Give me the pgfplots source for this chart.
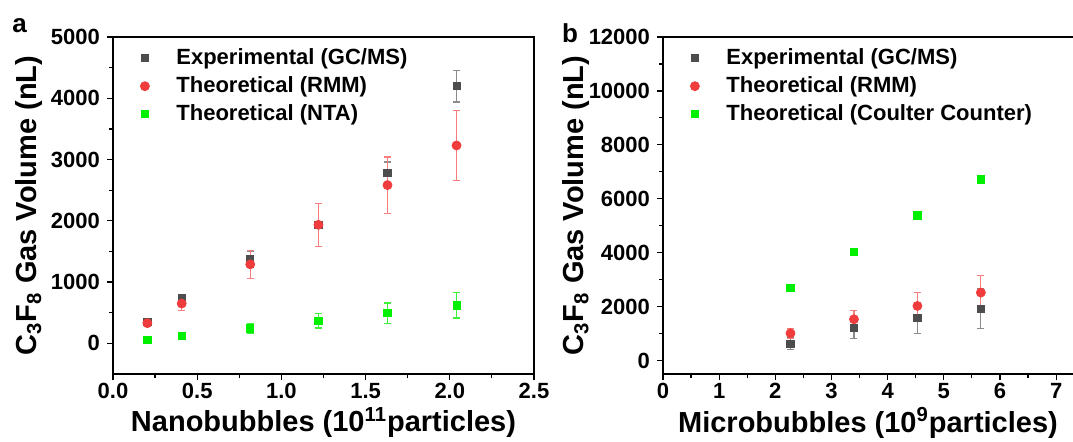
\documentclass[border=0pt]{standalone}
\usepackage{fontspec}
\setmainfont{Liberation Sans}
\usepackage{pgfplots}
\pgfplotsset{compat=1.18}
\definecolor{cgray}{RGB}{77,77,77}
\definecolor{cgrayE}{RGB}{140,140,140}
\definecolor{cred}{RGB}{240,60,60}
\definecolor{credE}{RGB}{250,125,125}
\definecolor{cgreen}{RGB}{0,240,0}
\definecolor{cgreenE}{RGB}{60,240,60}
\newcommand{\tickfont}{\fontsize{11}{13}\selectfont\bfseries}
\newcommand{\labfont}{\fontsize{14.5}{16}\selectfont\bfseries}
\pgfplotsset{
  common/.style={
    scale only axis,
    anchor=south west,
    height=168.5pt,
    ymin=-500,
    tick align=outside,
    xtick pos=bottom, ytick pos=left,
    minor x tick num=1, minor y tick num=1,
    major tick length=3pt, minor tick length=2pt,
    tick style={black, line width=0.6pt},
    axis line style={line width=0.6pt},
    /pgf/number format/assume math mode=true,
    /pgf/number format/1000 sep={},
    scaled ticks=false,
    ticklabel style={font=\tickfont},
    xticklabel style={yshift=2pt},
    label style={font=\labfont},
    xlabel style={yshift=2.5pt},
    legend style={draw=none, fill=none, font=\tickfont, anchor=north west,
      legend cell align=left, row sep=0.5pt, xshift=10.5pt,
      /tikz/every odd column/.append style={column sep=11.5pt}},
    error bars/y dir=both, error bars/y explicit,
    error bars/error mark options={rotate=90, mark size=1.75pt, line width=0.6pt},
  },
  sgray/.style={only marks, mark=square*, mark size=1.8pt, color=cgray,
     error bars/error bar style={cgrayE, line width=0.6pt}},
  sred/.style={only marks, mark=*, mark size=2.25pt, color=cred,
     error bars/error bar style={credE, line width=0.6pt}},
  sgreen/.style={only marks, mark=square*, mark size=1.8pt, color=cgreen,
     error bars/error bar style={cgreenE, line width=0.6pt}},
}
\begin{document}
\begin{tikzpicture}
% panel a
\begin{axis}[common,
  at={(56.5pt,33.5pt)}, width=210.5pt,
  xmin=0, xmax=2.5, ymax=5000,
  xtick={0,0.5,...,2.5}, ytick={0,1000,...,5000},
  xticklabel style={/pgf/number format/fixed, /pgf/number format/fixed zerofill, /pgf/number format/precision=1},
  xlabel={Nanobubbles (10\textsuperscript{11}particles)},
  ylabel={C\textsubscript{3}F\textsubscript{8} Gas Volume (nL)},
  ylabel style={at={(axis description cs:-0.199,0.5)}, anchor=center, rotate=0},
  legend style={at={(axis description cs:0,0.99)}},
]
\addplot[sgray] coordinates {
 (0.204,350) +- (0,30)
 (0.408,740) +- (0,35)
 (0.815,1380) +- (0,120)
 (1.22,1930) +- (0,40)
 (1.63,2780) +- (0,180)
 (2.04,4200) +- (0,260)
};
\addplot[sred] coordinates {
 (0.204,330) +- (0,40)
 (0.408,650) +- (0,120)
 (0.815,1290) +- (0,230)
 (1.22,1935) +- (0,350)
 (1.63,2583) +- (0,460)
 (2.04,3230) +- (0,575)
};
\addplot[sgreen] coordinates {
 (0.204,55) +- (0,15)
 (0.408,120) +- (0,15)
 (0.815,245) +- (0,80)
 (1.22,370) +- (0,120)
 (1.63,495) +- (0,165)
 (2.04,620) +- (0,205)
};
\legend{Experimental (GC/MS),Theoretical (RMM),Theoretical (NTA)}
\end{axis}
% panel b
\begin{axis}[common,
  at={(331.5pt,33.5pt)}, width=205pt,
  axis y line*=left,
  xmin=0, xmax=7.3, ymax=12000,
  xtick={0,1,...,7}, ytick={0,2000,...,12000},
  xlabel={Microbubbles (10\textsuperscript{9}particles)},
  ylabel={C\textsubscript{3}F\textsubscript{8} Gas Volume (nL)},
  ylabel style={at={(axis description cs:-0.211,0.5)}, anchor=center, rotate=0},
  legend style={at={(axis description cs:0,0.99)}},
]
\addplot[sgray] coordinates {
 (2.27,630) +- (0,220)
 (3.40,1210) +- (0,400)
 (4.53,1580) +- (0,580)
 (5.66,1925) +- (0,740)
};
\addplot[sred] coordinates {
 (2.27,1010) +- (0,190)
 (3.40,1530) +- (0,320)
 (4.53,2025) +- (0,500)
 (5.66,2520) +- (0,640)
};
\addplot[sgreen] coordinates {
 (2.27,2700)
 (3.40,4040)
 (4.53,5385)
 (5.66,6715)
};
\legend{Experimental (GC/MS),Theoretical (RMM),Theoretical (Coulter Counter)}
\end{axis}
\node[font=\fontsize{13}{15}\selectfont\bfseries, anchor=base] at (9.75pt,204.5pt) {a};
\node[font=\fontsize{13}{15}\selectfont\bfseries, anchor=base] at (285pt,199.5pt) {b};
\pgfresetboundingbox
\path[use as bounding box] (0,0) rectangle (536.5pt,220.5pt);
\end{tikzpicture}
\end{document}
